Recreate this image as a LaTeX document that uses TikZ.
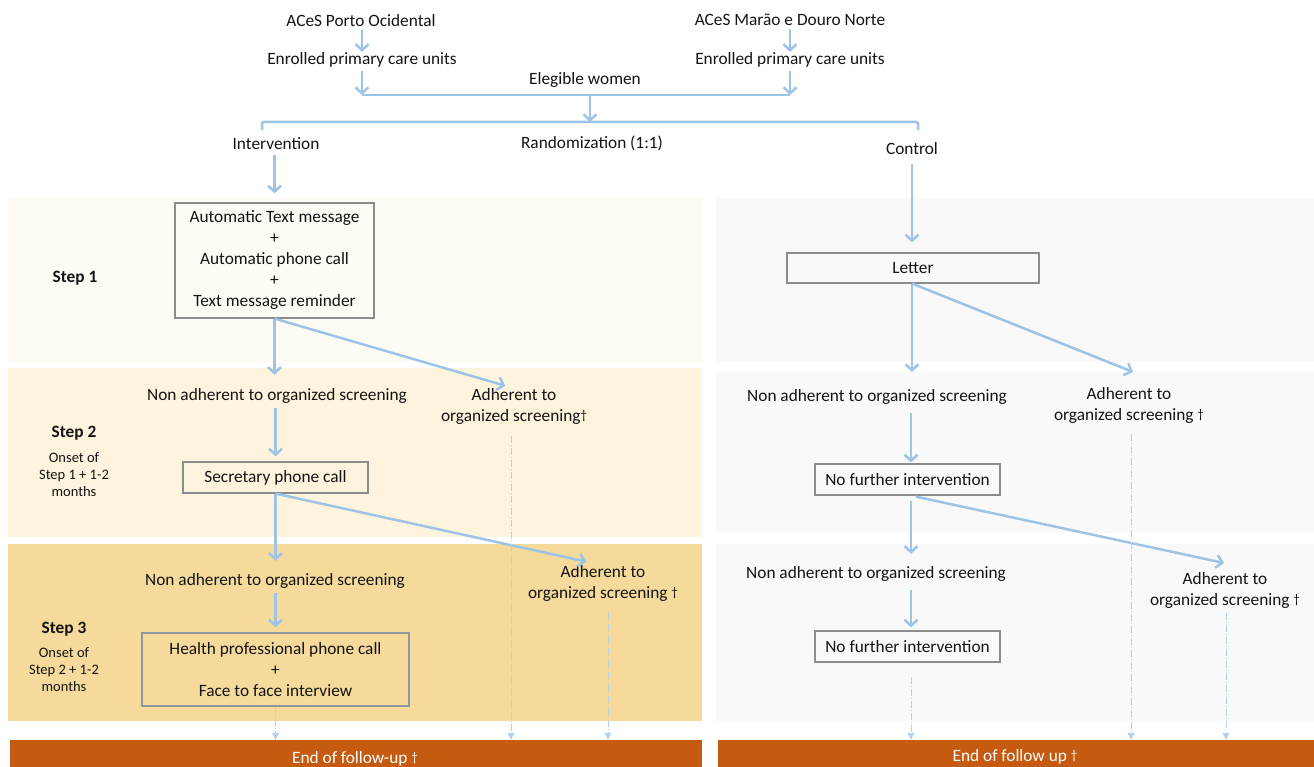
\documentclass[tikz,border=0pt]{standalone}
\usepackage{fontspec}
\setmainfont{Carlito}
\usetikzlibrary{arrows.meta}
\definecolor{arr}{HTML}{9DC3E6}
\definecolor{darr}{HTML}{B4D0EC}
\definecolor{pA}{HTML}{FEFBF4}
\definecolor{pB}{HTML}{FEF4DD}
\definecolor{pC}{HTML}{F5DA9B}
\definecolor{pG}{HTML}{F9F9F9}
\definecolor{bar}{HTML}{C55A11}
\definecolor{bx}{HTML}{8C8C8C}
\definecolor{ink}{HTML}{141414}
\newcommand\myfs{\fontsize{17.3}{21}\selectfont}
\newcommand\mysfs{\fontsize{14.5}{17}\selectfont}
\newcommand\mydg{{\fontsize{13}{13}\selectfont\raisebox{0.3ex}{\textdagger}}}
\begin{document}
\begin{tikzpicture}[x=1pt,y=-1pt,
  txt/.style={inner sep=0pt,align=center,font=\myfs,text=ink,yshift=-1.5pt},
  sub/.style={inner sep=0pt,align=center,font=\mysfs,text=ink,yshift=-1pt},
  ttl/.style={inner sep=0pt,align=center,font=\myfs\bfseries,text=ink,yshift=-1.5pt},
  boxnode/.style={draw=bx,line width=1.2pt,inner sep=0pt,align=center,font=\myfs,text=ink},
  barnode/.style={fill=bar,inner sep=0pt,font=\myfs,text=white},
  arrowline/.style={draw=arr,line width=2.5pt,-{Straight Barb[length=6pt,width=13pt]}},
  plainline/.style={draw=arr,line width=2.5pt},
  dashline/.style={draw=darr,line width=0.9pt,dash pattern=on 7pt off 2pt on 1pt off 2pt,-{Triangle[length=7pt,width=7pt]}}]
\useasboundingbox (0,0) rectangle (1314,767);
% panels
\fill[pA] (8,198) rectangle (702,362);
\fill[pB] (8,368) rectangle (702,537);
\fill[pC] (8,544) rectangle (702,721);
\fill[pG] (716,198) rectangle (1314,362);
\fill[pG] (716,372) rectangle (1314,533);
\fill[pG] (716,544) rectangle (1314,721);
% bars
\node[barnode,minimum width=692pt,minimum height=32pt] (barL) at (356,756) {};
\node[txt,text=white] (barLt) at (355,757) {End of follow-up \mydg};
\node[barnode,minimum width=596pt,minimum height=32pt] (barR) at (1016,756) {};
\node[txt,text=white] (barRt) at (1015,755) {End of follow up \mydg};
% top
\node[txt] (ac1) at (361,19) {ACeS Porto Ocidental};
\node[txt] (en1) at (362,58) {Enrolled primary care units};
\node[txt] (ac2) at (790,18) {ACeS Marão e Douro Norte};
\node[txt] (en2) at (790,58) {Enrolled primary care units};
\node[txt] (elig) at (585,78) {Elegible women};
\coordinate (j1) at (362,95);
\coordinate (j2) at (790,95);
\coordinate (m1) at (590,95);
\coordinate (m2) at (590,122);
\coordinate (bl) at (262,130);
\coordinate (br) at (918,130);
\draw[arrowline,shorten <=3pt] (ac1.south -| en1) -- (en1.north);
\draw[arrowline,shorten <=4pt] (en1.south) -- (j1);
\draw[arrowline,shorten <=3pt] (ac2.south) -- (en2.north);
\draw[arrowline,shorten <=4pt] (en2.south) -- (j2);
\draw[plainline] (j1) -- (j2);
\draw[arrowline] (m1) -- (m2);
\draw[plainline,rounded corners=2pt] (bl) |- (m2) -| (br);
\node[txt] (interv) at (276,142) {Intervention};
\node[txt] (rand) at (592,142) {Randomization (1:1)};
\node[txt] (ctrl) at (912,147) {Control};
% left column
\node[boxnode,minimum width=199pt,minimum height=115pt] (b1) at (274.5,260.5)
  {Automatic Text message\\+\\Automatic phone call\\+\\Text message reminder};
\node[ttl] (s1) at (75,277) {Step 1};
\draw[arrowline,shorten <=5pt,shorten >=9pt] (interv.south -| b1.north) -- (b1.north);
\node[txt] (na1) at (277,394) {Non adherent to organized screening};
\node[txt] (ad1) at (514,405) {Adherent to\\organized screening\mydg};
\draw[arrowline,shorten >=13pt] (b1.south) -- (b1.south |- na1.north);
\draw[arrowline,shorten >=9pt] (b1.south) -- (ad1.north);
\node[boxnode,minimum width=185pt,minimum height=31pt] (sec) at (275.5,477.5) {Secretary phone call};
\node[ttl] (s2) at (74,432) {Step 2};
\node[sub] (s2s) at (74,474) {Onset of\\Step 1 + 1-2\\months};
\draw[arrowline,shorten <=5pt,shorten >=5pt] (na1.south -| sec.north) -- (sec.north);
\node[txt] (na2) at (275,579) {Non adherent to organized screening};
\node[txt] (ad2) at (603,582) {Adherent to\\organized screening \mydg};
\draw[arrowline,shorten >=12pt] (sec.south) -- (sec.south |- na2.north);
\draw[arrowline,shorten >=17pt] (sec.south) -- (ad2.north);
\node[boxnode,draw=bx!80!arr,minimum width=267pt,minimum height=73pt] (hp) at (275.5,669.5)
  {Health professional phone call\\+\\Face to face interview};
\node[ttl] (s3) at (64,628) {Step 3};
\node[sub] (s3s) at (64,669) {Onset of\\Step 2 + 1-2\\months};
\draw[arrowline,shorten <=5pt,shorten >=5pt] (na2.south -| hp.north) -- (hp.north);
\draw[dashline] (hp.south) -- (hp.south |- barL.north);
\draw[dashline,shorten <=11pt] (ad1.south -| 511,0) -- (511,0 |- barL.north);
\draw[dashline,shorten <=10pt] (ad2.south -| 608,0) -- (608,0 |- barL.north);
% right column
\node[boxnode,minimum width=252pt,minimum height=30pt] (let) at (913,268) {Letter};
\draw[arrowline,shorten <=9pt,shorten >=10pt] (ctrl.south) -- (ctrl.south |- let.north);
\node[txt] (na3) at (877,395) {Non adherent to organized screening};
\node[txt] (ad3) at (1129,404) {Adherent to\\organized screening \mydg};
\draw[arrowline] (let.south -| 912,0) -- (912,372);
\coordinate (t3) at (1133,372);
\draw[arrowline] (let.south -| 912,0) -- (t3);
\node[boxnode,minimum width=185pt,minimum height=31pt] (nf1) at (907.5,479.5) {No further intervention};
\draw[arrowline,shorten <=9pt,shorten >=1pt] (na3.south -| 911,0) -- (911,0 |- nf1.north);
\node[txt] (na4) at (876,572) {Non adherent to organized screening};
\node[txt] (ad4) at (1225,589) {Adherent to\\organized screening \mydg};
\coordinate (t4) at (1224,563);
\draw[arrowline,shorten <=5pt,shorten >=12pt] (nf1.south -| 911,0) -- (911,0 |- na4.north);
\draw[arrowline,shorten <=5pt] (nf1.south -| 911,0) -- (t4);
\node[boxnode,minimum width=185pt,minimum height=31pt] (nf2) at (907.5,646.5) {No further intervention};
\draw[arrowline,shorten <=9pt,shorten >=3pt] (na4.south -| 911,0) -- (911,0 |- nf2.north);
\draw[dashline,shorten <=14pt] (nf2.south -| 911,0) -- (911,0 |- barR.north);
\draw[dashline,shorten <=10pt] (ad3.south -| 1131,0) -- (1131,0 |- barR.north);
\draw[dashline,shorten <=4pt] (ad4.south -| 1226,0) -- (1226,0 |- barR.north);
\end{tikzpicture}
\end{document}
